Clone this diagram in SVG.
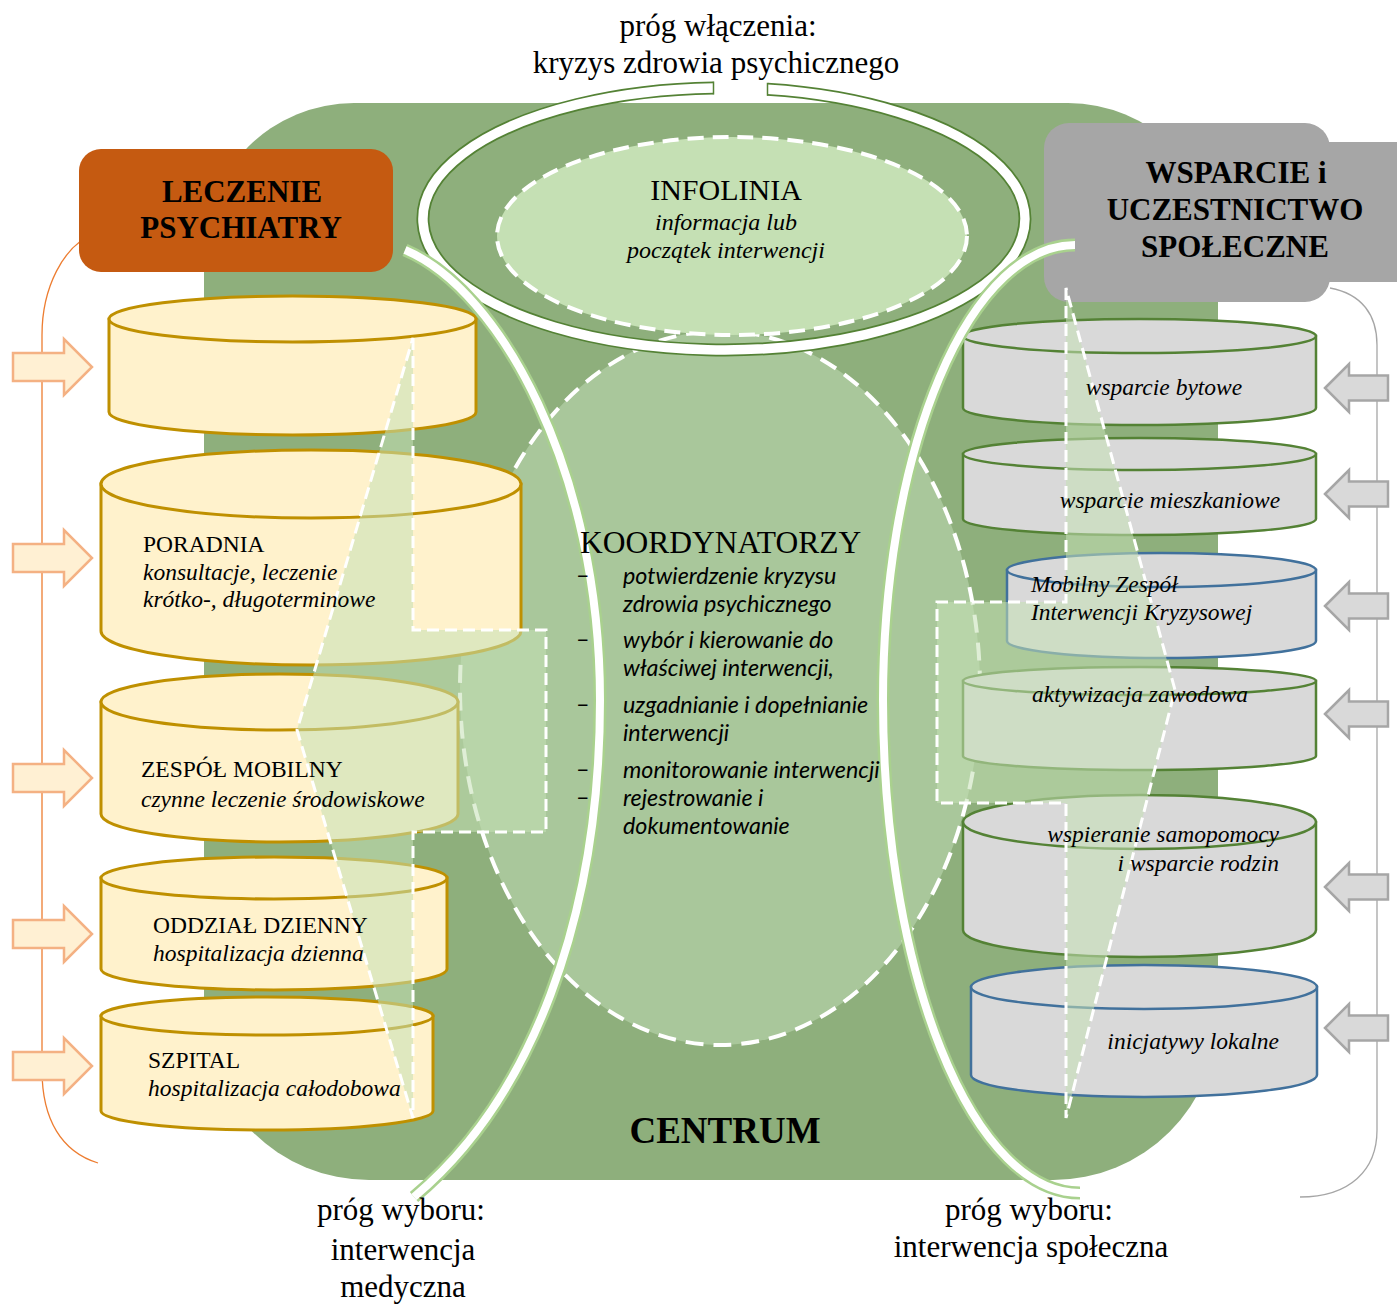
<svg xmlns="http://www.w3.org/2000/svg" width="1397" height="1305" viewBox="0 0 1397 1305">
<defs>
<style>
.serif{font-family:"Liberation Serif","Times New Roman",serif;fill:#000}
.it{font-style:italic}
.b{font-weight:bold}
.lbl{font-size:31px}
.ct{font-size:23.5px}
.mid{text-anchor:middle}
.end{text-anchor:end}
.lcyl path,.lcyl ellipse{fill:#FFF2CC;stroke:#BF9000;stroke-width:3}
.rcyl path,.rcyl ellipse{fill:#D9D9D9;stroke:#548235;stroke-width:2.5}
.blue path,.blue ellipse{stroke:#41719C}
.larr{fill:#FFF0D3;stroke:#F4B183;stroke-width:2.5}
.rarr{fill:#D9D9D9;stroke:#A6A6A6;stroke-width:2.5}
.overlay{fill:#C5E0B4;fill-opacity:.55;stroke:#fff;stroke-width:3;stroke-dasharray:12 6}
.bul{font-family:Lato,"Liberation Sans",sans-serif;font-size:23.3px;fill:#000}
.arcO{fill:none;stroke:#A9D18E;stroke-width:13}
.arcI{fill:none;stroke:#fff;stroke-width:8}
</style>
<path id="la" d="M-79,-14H-28V-28L0,0L-28,28V14H-79Z"/>
<path id="ra" d="M0,0L24,-24V-12.5H63V12.5H24V24Z"/>
</defs>
<rect width="1397" height="1305" fill="#fff"/>

<g id="centrum-bg">
<path d="M354,103H1068A150,150 0 0 1 1218,253V1015A165,165 0 0 1 1053,1180H369A165,165 0 0 1 204,1015V253A150,150 0 0 1 354,103Z" fill="#8EAF7C"/>
</g>

<g id="brackets" fill="none" stroke-width="1.3">
<path d="M98,232C62,244 42,290 42,335V1070C42,1120 62,1152 98,1163" stroke="#ED7D31"/>
<path d="M1330,288C1362,294 1377,315 1377,345V1130C1377,1170 1350,1197 1300,1197" stroke="#A6A6A6"/>
</g>

<g id="leczenie-box">
<rect x="79" y="149" width="314" height="123" rx="22" fill="#C55A11"/>
<text class="serif b lbl mid" x="242" y="202">LECZENIE</text>
<text class="serif b lbl mid" x="241" y="238">PSYCHIATRY</text>
</g>

<g id="wsparcie-box">
<rect x="1300" y="142" width="97" height="140" fill="#A6A6A6"/>
<rect x="1044" y="123" width="286" height="179" rx="25" fill="#A6A6A6"/>
<text class="serif b lbl mid" x="1236" y="183">WSPARCIE i</text>
<text class="serif b lbl mid" x="1235" y="220">UCZESTNICTWO</text>
<text class="serif b lbl mid" x="1235" y="257">SPOŁECZNE</text>
</g>

<g id="koordynatorzy">
<ellipse cx="720" cy="688" rx="260" ry="357" fill="#A9C79B" stroke="#fff" stroke-width="4" stroke-dasharray="18 10"/>
</g>

<g id="infolinia">
<path d="M713.5,88A301,131 0 1 0 767.5,89.3" fill="none" stroke="#548235" stroke-width="13"/>
<path d="M713.5,88A301,131 0 1 0 767.5,89.3" fill="none" stroke="#fff" stroke-width="9.5"/>
<path d="M713.5,81.5V94.5M767.5,82.8V95.8" stroke="#548235" stroke-width="1.5"/>
<ellipse cx="732" cy="236" rx="235" ry="99" fill="#C5E0B4" stroke="#fff" stroke-width="4" stroke-dasharray="16 9"/>
<text class="serif mid" x="726" y="200" font-size="30">INFOLINIA</text>
<text class="serif it mid" x="726" y="230" font-size="24">informacja lub</text>
<text class="serif it mid" x="726" y="258" font-size="24">początek interwencji</text>
</g>

<g id="cyl-top" class="lcyl">
<path d="M109,319V412A183.5,23 0 0 0 476,412V319Z"/>
<ellipse cx="292.5" cy="319" rx="183.5" ry="23"/>
</g>
<g id="cyl-poradnia" class="lcyl">
<path d="M101,484V631A210,34 0 0 0 521,631V484Z"/>
<ellipse cx="311" cy="484" rx="210" ry="34"/>
</g>
<g id="cyl-zespol" class="lcyl">
<path d="M101,702V814A178.5,28 0 0 0 458,814V702Z"/>
<ellipse cx="279.5" cy="702" rx="178.5" ry="28"/>
</g>
<g id="cyl-oddzial" class="lcyl">
<path d="M101,878V969A173,21 0 0 0 447,969V878Z"/>
<ellipse cx="274" cy="878" rx="173" ry="21"/>
</g>
<g id="cyl-szpital" class="lcyl">
<path d="M101,1016V1111A166,19 0 0 0 433,1111V1016Z"/>
<ellipse cx="267" cy="1016" rx="166" ry="19"/>
</g>

<g id="cyl-bytowe" class="rcyl">
<path d="M963,336V408A176.5,17 0 0 0 1316,408V336Z"/>
<ellipse cx="1139.5" cy="336" rx="176.5" ry="17"/>
</g>
<g id="cyl-mieszkaniowe" class="rcyl">
<path d="M963,454V519A176.5,16 0 0 0 1316,519V454Z"/>
<ellipse cx="1139.5" cy="454" rx="176.5" ry="16"/>
</g>
<g id="cyl-mzik" class="rcyl blue">
<path d="M1007,570V641A154.5,17 0 0 0 1316,641V570Z"/>
<ellipse cx="1161.5" cy="570" rx="154.5" ry="17"/>
</g>
<g id="cyl-aktywizacja" class="rcyl">
<path d="M963,681V756A176.5,14 0 0 0 1316,756V681Z"/>
<ellipse cx="1139.5" cy="681" rx="176.5" ry="14"/>
</g>
<g id="cyl-samopomoc" class="rcyl">
<path d="M963,822V930A176.5,27 0 0 0 1316,930V822Z"/>
<ellipse cx="1139.5" cy="822" rx="176.5" ry="27"/>
</g>
<g id="cyl-inicjatywy" class="rcyl blue">
<path d="M971,987V1075A173,22 0 0 0 1317,1075V987Z"/>
<ellipse cx="1144" cy="987" rx="173" ry="22"/>
</g>

<g id="overlays">
<path class="overlay" d="M413,338V630H546V832H413V1118L297,730Z"/>
<path class="overlay" d="M1066,288V602H937V803H1066V1118L1175,690Z"/>
</g>

<g id="connectors">
<path class="arcO" d="M405,250C500,290 600,470 600,700C600,920 530,1100 414,1197"/>
<path class="arcI" d="M405,250C500,290 600,470 600,700C600,920 530,1100 414,1197"/>
<path class="arcO" d="M1075,245A192,455 0 0 0 883,700A197,493 0 0 0 1080,1193"/>
<path class="arcI" d="M1075,245A192,455 0 0 0 883,700A197,493 0 0 0 1080,1193"/>
<g class="larr">
<use href="#la" x="92" y="367"/>
<use href="#la" x="92" y="558"/>
<use href="#la" x="92" y="778"/>
<use href="#la" x="92" y="934"/>
<use href="#la" x="92" y="1066"/>
</g>
<g class="rarr">
<use href="#ra" x="1325" y="388"/>
<use href="#ra" x="1325" y="494"/>
<use href="#ra" x="1325" y="606"/>
<use href="#ra" x="1325" y="714"/>
<use href="#ra" x="1325" y="887"/>
<use href="#ra" x="1325" y="1028"/>
</g>
</g>

<g id="cyl-texts" class="serif ct">
<text x="143" y="552">PORADNIA</text>
<text class="it" x="143" y="580">konsultacje, leczenie</text>
<text class="it" x="143" y="607">krótko-, długoterminowe</text>
<text x="141" y="777">ZESPÓŁ MOBILNY</text>
<text class="it" x="141" y="807">czynne leczenie środowiskowe</text>
<text x="153" y="933">ODDZIAŁ DZIENNY</text>
<text class="it" x="153" y="961">hospitalizacja dzienna</text>
<text x="148" y="1068">SZPITAL</text>
<text class="it" x="148" y="1096">hospitalizacja całodobowa</text>
<text class="it mid" x="1164" y="395">wsparcie bytowe</text>
<text class="it mid" x="1170" y="508">wsparcie mieszkaniowe</text>
<text class="it" x="1031" y="592">Mobilny Zespół</text>
<text class="it" x="1031" y="620">Interwencji Kryzysowej</text>
<text class="it" x="1032" y="702">aktywizacja zawodowa</text>
<text class="it end" x="1279" y="842">wspieranie samopomocy</text>
<text class="it end" x="1279" y="871">i wsparcie rodzin</text>
<text class="it end" x="1279" y="1049">inicjatywy lokalne</text>
</g>

<g id="koord-text">
<text class="serif" x="580" y="553" font-size="31.5">KOORDYNATORZY</text>
<g class="bul">
<text x="576" y="583">–</text>
<text x="576" y="647">–</text>
<text x="576" y="712">–</text>
<text x="576" y="777">–</text>
<text x="576" y="805">–</text>
</g>
<g class="bul" font-style="italic">
<text x="623" y="584">potwierdzenie kryzysu</text>
<text x="623" y="612">zdrowia psychicznego</text>
<text x="623" y="648">wybór i kierowanie do</text>
<text x="623" y="676">właściwej interwencji,</text>
<text x="623" y="713">uzgadnianie i dopełnianie</text>
<text x="623" y="741">interwencji</text>
<text x="623" y="778">monitorowanie interwencji</text>
<text x="623" y="806">rejestrowanie i</text>
<text x="623" y="834">dokumentowanie</text>
</g>
</g>

<g id="labels" class="serif lbl mid">
<text x="718" y="36">próg włączenia:</text>
<text x="716" y="73">kryzys zdrowia psychicznego</text>
<text class="b" x="725" y="1143" font-size="37">CENTRUM</text>
<text x="401" y="1220">próg wyboru:</text>
<text x="403" y="1260">interwencja</text>
<text x="403" y="1297">medyczna</text>
<text x="1029" y="1220">próg wyboru:</text>
<text x="1031" y="1257">interwencja społeczna</text>
</g>
</svg>
